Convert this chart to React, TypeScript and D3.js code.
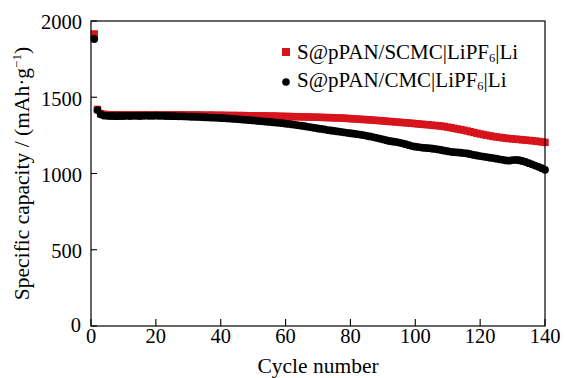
import React from "react";
import * as d3 from "d3";

// Cycle performance of two sulfur cathodes (mAh/g per cycle)
const scmcCapacity: number[] = [
  1915, 1420, 1393, 1388, 1386, 1385, 1385, 1384, 1385, 1384,
  1384, 1385, 1384, 1384, 1385, 1385, 1384, 1384, 1385, 1384,
  1385, 1385, 1384, 1385, 1384, 1384, 1385, 1384, 1384, 1383,
  1383, 1384, 1383, 1383, 1382, 1382, 1383, 1382, 1381, 1382,
  1381, 1381, 1380, 1381, 1380, 1380, 1380, 1379, 1378, 1379,
  1378, 1377, 1378, 1377, 1376, 1377, 1376, 1375, 1375, 1374,
  1374, 1373, 1373, 1372, 1372, 1371, 1370, 1370, 1369, 1369,
  1368, 1367, 1367, 1366, 1365, 1364, 1364, 1363, 1361, 1360,
  1358, 1357, 1356, 1354, 1353, 1352, 1350, 1348, 1347, 1345,
  1343, 1341, 1340, 1338, 1336, 1334, 1333, 1331, 1329, 1327,
  1325, 1323, 1321, 1320, 1317, 1315, 1313, 1311, 1308, 1304,
  1300, 1296, 1292, 1288, 1284, 1279, 1274, 1269, 1264, 1259,
  1255, 1251, 1247, 1243, 1240, 1237, 1234, 1231, 1229, 1227,
  1225, 1223, 1221, 1219, 1217, 1215, 1213, 1210, 1207, 1204,
];

const cmcCapacity: number[] = [
  1882, 1416, 1388, 1380, 1378, 1377, 1377, 1376, 1377, 1377,
  1378, 1377, 1378, 1378, 1377, 1378, 1379, 1378, 1378, 1379,
  1378, 1378, 1377, 1377, 1376, 1376, 1375, 1375, 1374, 1373,
  1372, 1372, 1371, 1370, 1369, 1368, 1367, 1366, 1365, 1364,
  1363, 1361, 1360, 1358, 1357, 1355, 1353, 1352, 1350, 1348,
  1346, 1344, 1342, 1340, 1338, 1336, 1334, 1332, 1330, 1327,
  1325, 1322, 1319, 1316, 1313, 1310, 1306, 1303, 1299, 1295,
  1292, 1289, 1285, 1282, 1279, 1276, 1273, 1270, 1267, 1264,
  1261, 1258, 1255, 1251, 1247, 1243, 1239, 1234, 1229, 1224,
  1218, 1213, 1210, 1207, 1203, 1198, 1192, 1186, 1180, 1176,
  1173, 1170, 1168, 1166, 1164, 1161, 1158, 1154, 1150, 1146,
  1142, 1140, 1138, 1136, 1134, 1131, 1127, 1122, 1118, 1114,
  1111, 1108, 1104, 1101, 1097, 1093, 1090, 1086, 1084, 1088,
  1089, 1087, 1082, 1076, 1068, 1060, 1052, 1044, 1035, 1024,
];

const xTicks: number[] = [0, 20, 40, 60, 80, 100, 120, 140];
const yTicks: number[] = [0, 500, 1000, 1500, 2000];

const WIDTH = 565;
const HEIGHT = 378;
const M = { left: 91, right: 545, top: 21, bottom: 326 };
const RED = "#d7141c";
const FONT = "'Liberation Serif', 'Times New Roman', serif";
const TICK_FS = 20.5;
const TITLE_FS = 21.5;
const LEGEND_FS = 21;

export default function App() {
  const x = d3.scaleLinear().domain([0, 140]).range([M.left, M.right]);
  const y = d3.scaleLinear().domain([0, 2000]).range([M.bottom, M.top]);

  const scmc = scmcCapacity.map((v, i) => ({ c: i + 1, v }));
  const cmc = cmcCapacity.map((v, i) => ({ c: i + 1, v }));
  const sq = 7.4;

  return (
    <svg
      width={WIDTH}
      height={HEIGHT}
      style={{ position: "absolute", left: 0, top: 0, background: "#fff" }}
      fontFamily={FONT}
    >
      <rect x={0} y={0} width={WIDTH} height={HEIGHT} fill="#fff" />

      {/* series */}
      <g>
        {scmc.map((d) => (
          <rect
            key={`s${d.c}`}
            x={x(d.c) - sq / 2}
            y={y(d.v) - sq / 2}
            width={sq}
            height={sq}
            fill={RED}
          />
        ))}
      </g>
      <g>
        {cmc.map((d) => (
          <circle key={`c${d.c}`} cx={x(d.c)} cy={y(d.v)} r={3.9} fill="#000" />
        ))}
      </g>

      {/* frame */}
      <rect
        x={M.left}
        y={M.top}
        width={M.right - M.left}
        height={M.bottom - M.top}
        fill="none"
        stroke="#000"
        strokeWidth={1.2}
      />

      {/* x axis */}
      {xTicks.map((t) => (
        <g key={`xt${t}`}>
          <line x1={x(t)} x2={x(t)} y1={M.bottom} y2={M.bottom - 7} stroke="#000" strokeWidth={1.1} />
          <text x={x(t)} y={343} textAnchor="middle" fontSize={TICK_FS} fill="#000">
            {t}
          </text>
        </g>
      ))}
      <text x={(M.left + M.right) / 2} y={373} textAnchor="middle" fontSize={TITLE_FS} fill="#000">
        Cycle number
      </text>

      {/* y axis */}
      {yTicks.map((t) => (
        <g key={`yt${t}`}>
          <line x1={M.left} x2={M.left + 6} y1={y(t)} y2={y(t)} stroke="#000" strokeWidth={1.1} />
          <text
            x={t === 0 ? 81 : 82}
            y={t === 0 ? y(t) + 6 : y(t) + 8.3}
            textAnchor="end"
            fontSize={TICK_FS}
            fill="#000"
          >
            {t}
          </text>
        </g>
      ))}
      <text
        transform={`translate(29, ${(M.top + M.bottom) / 2}) rotate(-90)`}
        textAnchor="middle"
        fontSize={TITLE_FS}
        fill="#000"
      >
        Specific capacity / (mAh·g
        <tspan fontSize={13} dy={-8}>−1</tspan>
        <tspan dy={8}>)</tspan>
      </text>

      {/* legend */}
      <rect x={282} y={48} width={8} height={8} fill={RED} />
      <text x={297} y={59} fontSize={LEGEND_FS} fill="#000">
        S@pPAN/SCMC|LiPF
        <tspan fontSize={12.5} dy={3}>6</tspan>
        <tspan dy={-3}>|Li</tspan>
      </text>
      <circle cx={286} cy={82} r={3.8} fill="#000" />
      <text x={297} y={87} fontSize={LEGEND_FS} fill="#000">
        S@pPAN/CMC|LiPF
        <tspan fontSize={12.5} dy={3}>6</tspan>
        <tspan dy={-3}>|Li</tspan>
      </text>
    </svg>
  );
}
